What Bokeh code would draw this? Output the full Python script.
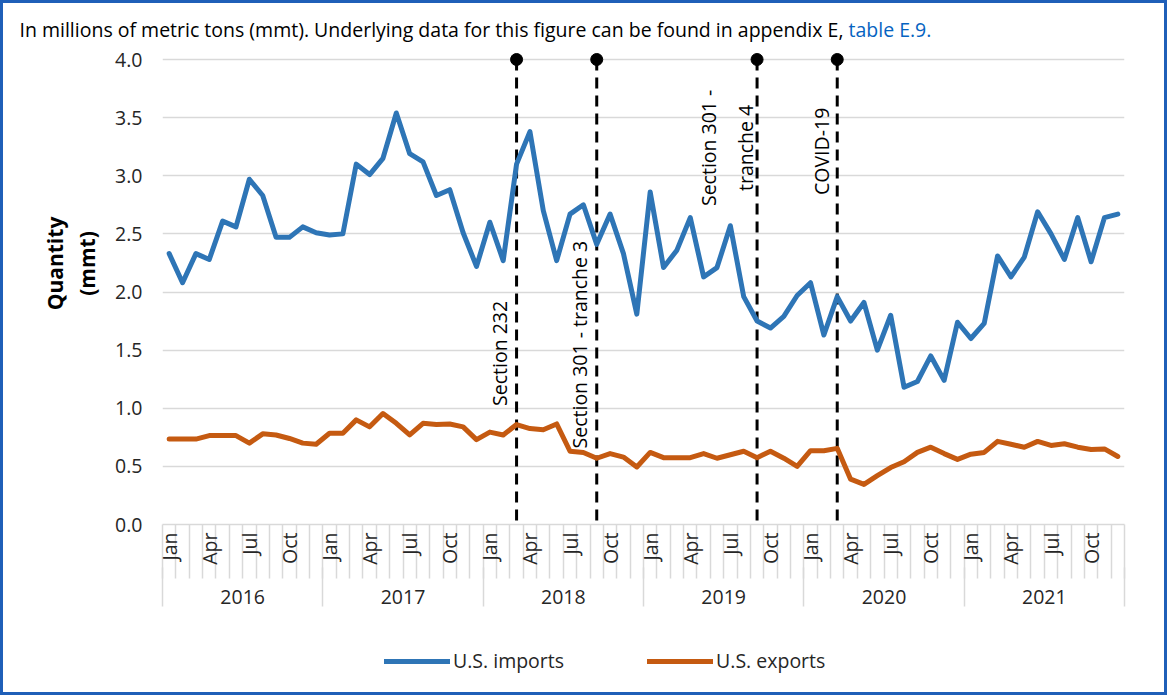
import math
from bokeh.plotting import figure
from bokeh.layouts import column
from bokeh.models import (FixedTicker, LinearAxis, Range1d, Label, Legend, LegendItem,
                          NumeralTickFormatter, Title)
from bokeh.embed import file_html
from bokeh.resources import INLINE

# ---------------- data ----------------
years = ["2016", "2017", "2018", "2019", "2020", "2021"]
month_names = ["Jan", "Feb", "Mar", "Apr", "May", "Jun",
               "Jul", "Aug", "Sep", "Oct", "Nov", "Dec"]
labelled_months = ["Jan", "Apr", "Jul", "Oct"]

imports = [2.33, 2.08, 2.33, 2.28, 2.61, 2.56, 2.97, 2.83, 2.47, 2.47, 2.56, 2.51,
           2.49, 2.50, 3.10, 3.01, 3.15, 3.54, 3.19, 3.12, 2.83, 2.88, 2.51, 2.22,
           2.60, 2.27, 3.10, 3.38, 2.70, 2.27, 2.67, 2.75, 2.41, 2.67, 2.33, 1.81,
           2.86, 2.21, 2.36, 2.64, 2.13, 2.21, 2.57, 1.96, 1.75, 1.69, 1.79, 1.97,
           2.08, 1.63, 1.96, 1.75, 1.91, 1.50, 1.80, 1.18, 1.23, 1.45, 1.24, 1.74,
           1.60, 1.73, 2.31, 2.13, 2.30, 2.69, 2.50, 2.28, 2.64, 2.26, 2.64, 2.67]

exports = [0.735, 0.735, 0.735, 0.765, 0.765, 0.765, 0.70, 0.78, 0.77, 0.74, 0.70, 0.69,
           0.785, 0.785, 0.90, 0.84, 0.955, 0.87, 0.77, 0.87, 0.86, 0.865, 0.84, 0.73,
           0.795, 0.77, 0.86, 0.825, 0.815, 0.865, 0.63, 0.62, 0.57, 0.61, 0.58, 0.495,
           0.62, 0.575, 0.575, 0.575, 0.61, 0.57, 0.60, 0.63, 0.575, 0.63, 0.57, 0.50,
           0.635, 0.635, 0.655, 0.39, 0.345, 0.42, 0.49, 0.54, 0.62, 0.665, 0.61, 0.56,
           0.605, 0.62, 0.715, 0.69, 0.665, 0.715, 0.68, 0.695, 0.665, 0.645, 0.65, 0.585]

event_periods = [("2018", "Mar"), ("2018", "Sep"), ("2019", "Sep"), ("2020", "Mar")]
event_labels = ["Section 232", "Section 301 - tranche 3", "Section 301 -\ntranche 4", "COVID-19"]

y_ticks = [0.0, 0.5, 1.0, 1.5, 2.0, 2.5, 3.0, 3.5, 4.0]

subtitle_text = "In millions of metric tons (mmt). Underlying data for this figure can be found in appendix E,"
subtitle_link = "table E.9."
y_title_lines = ["Quantity", "(mmt)"]
series_names = ["U.S. imports", "U.S. exports"]

# ---------------- derived ----------------
periods = [(y, m) for y in years for m in month_names]
xs = list(range(len(periods)))
month_ticks = [i for i, (y, m) in enumerate(periods) if m in labelled_months]
month_overrides = {i: periods[i][1] for i in month_ticks}
month_bounds = [i - 0.5 for i in range(len(periods) + 1)]
year_centers = [i * 12 + 5.5 for i in range(len(years))]
year_overrides = {c: y for c, y in zip(year_centers, years)}
year_bounds = [i * 12 - 0.5 for i in range(len(years) + 1)]
event_x = [periods.index(p) for p in event_periods]

FONT = "Open Sans"
FS = "19.5px"
GRID = "#d9d9d9"
TXT = "#262626"
BLUE = "#2E75B6"
ORANGE = "#C55A11"
LINK = "#0563C1"
NB = "\u00a0"

W = 1161
HM, HF = 621, 68
top_pad = 8 / 116.25
BL, BR = 159, 40

p = figure(width=W, height=HM, output_backend="svg", toolbar_location=None,
           x_range=Range1d(-0.5, len(periods) - 0.5),
           y_range=Range1d(0, y_ticks[-1] + top_pad),
           x_axis_type=None,
           min_border_left=BL, min_border_top=48, min_border_right=BR, min_border_bottom=100)
p.outline_line_color = None
p.background_fill_color = "white"
p.border_fill_color = "white"

# subtitle (black part, then blue link part on the same line)
sub_a = Title(text=subtitle_text, align="left", offset=-143, vertical_align="middle",
              standoff=15, text_font=FONT, text_font_size=FS, text_font_style="normal",
              text_color="black")
sub_b = Title(text=subtitle_link, align="left", offset=686, vertical_align="bottom",
              standoff=-71, text_font=FONT, text_font_size=FS, text_font_style="normal",
              text_color=LINK)
p.add_layout(sub_a, "above")
p.add_layout(sub_b, "above")

# y axis
yax = p.yaxis[0]
yax.ticker = FixedTicker(ticks=y_ticks)
yax.formatter = NumeralTickFormatter(format="0.0")
yax.axis_line_color = None
yax.major_tick_line_color = None
yax.minor_tick_line_color = None
yax.major_tick_out = 0
yax.minor_tick_out = 0
yax.major_label_standoff = 20
yax.major_label_text_font = FONT
yax.major_label_text_font_size = FS
yax.major_label_text_color = TXT
yax.axis_label = "\n".join(NB * 9 + s for s in y_title_lines)
yax.axis_label_text_font = FONT
yax.axis_label_text_font_size = "21px"
yax.axis_label_text_font_style = "bold"
yax.axis_label_text_color = "black"
yax.axis_label_standoff = 11
yax.axis_label_text_line_height = 1.15
p.ygrid.ticker = FixedTicker(ticks=y_ticks)
p.ygrid.grid_line_color = GRID
p.ygrid.grid_line_width = 1.5

# month axis
max_ = LinearAxis(ticker=FixedTicker(ticks=month_ticks, minor_ticks=month_bounds),
                  major_label_overrides=month_overrides)
max_.axis_line_color = GRID
max_.axis_line_width = 1.5
max_.major_tick_out = 0
max_.major_tick_in = 0
max_.major_tick_line_color = None
max_.minor_tick_out = 54
max_.minor_tick_in = 0
max_.minor_tick_line_color = GRID
max_.minor_tick_line_width = 1.5
max_.major_label_orientation = math.pi / 2
max_.major_label_standoff = -46
max_.major_label_text_font = FONT
max_.major_label_text_font_size = FS
max_.major_label_text_color = TXT
p.add_layout(max_, "below")

# year axis
yr = LinearAxis(ticker=FixedTicker(ticks=year_centers, minor_ticks=year_bounds),
                major_label_overrides=year_overrides)
yr.axis_line_color = None
yr.major_tick_out = 0
yr.major_tick_in = 0
yr.major_tick_line_color = None
yr.minor_tick_out = 39
yr.minor_tick_in = 0
yr.minor_tick_line_color = GRID
yr.minor_tick_line_width = 1.5
yr.major_label_standoff = -17
yr.major_label_text_font = FONT
yr.major_label_text_font_size = FS
yr.major_label_text_color = TXT
p.add_layout(yr, "below")

# event lines
p.segment(x0=event_x, y0=[y_ticks[-1]] * len(event_x), x1=event_x, y1=[0] * len(event_x),
          line_color="black", line_width=3, line_dash="11 7")
p.scatter(event_x, [y_ticks[-1]] * len(event_x), size=12, color="black")

# series
r1 = p.line(xs, imports, line_color=BLUE, line_width=5, line_join="round", line_cap="round")
r2 = p.line(xs, exports, line_color=ORANGE, line_width=5, line_join="round", line_cap="round")

# event annotations
ev_style = dict(angle=math.pi / 2, text_font=FONT, text_font_size=FS,
                text_color="black", text_baseline="middle", text_line_height=1.35)
p.add_layout(Label(x=event_x[0], y=1.02, x_offset=-17, text=event_labels[0], text_align="left", **ev_style))
p.add_layout(Label(x=event_x[1], y=0.654, x_offset=-17, text=event_labels[1], text_align="left", **ev_style))
p.add_layout(Label(x=event_x[2], y=3.24, x_offset=-30, text=event_labels[2], text_align="center", **ev_style))
p.add_layout(Label(x=event_x[3], y=3.21, x_offset=-16, text=event_labels[3], text_align="center", **ev_style))

# ---------------- legend strip ----------------
# same series drawn in a strip whose y range lies above the data, so only the legend shows
f = figure(width=W, height=HF, output_backend="svg", toolbar_location=None,
           x_range=Range1d(-0.5, len(periods) - 0.5), y_range=Range1d(10, 11),
           x_axis_type=None, y_axis_type=None,
           min_border_left=BL, min_border_right=BR, min_border_top=0, min_border_bottom=0)
f.outline_line_color = None
f.grid.visible = False
f.background_fill_color = "white"
f.border_fill_color = "white"
k1 = f.line(xs, imports, line_color=BLUE, line_width=5, line_cap="round")
k2 = f.line(xs, exports, line_color=ORANGE, line_width=5, line_cap="round")
legend = Legend(items=[LegendItem(label=series_names[0], renderers=[k1]),
                       LegendItem(label=series_names[1], renderers=[k2])],
                location=(222, 18), orientation="horizontal",
                glyph_width=66, glyph_height=20, label_standoff=3, spacing=83,
                padding=0, margin=0, border_line_color=None, background_fill_alpha=0,
                label_text_font=FONT, label_text_font_size=FS, label_text_color=TXT)
f.add_layout(legend, "center")

root = column(p, f, spacing=0, styles={"border": "3px solid #1f5fb8"})
open("out.html", "w").write(file_html(root, INLINE))
